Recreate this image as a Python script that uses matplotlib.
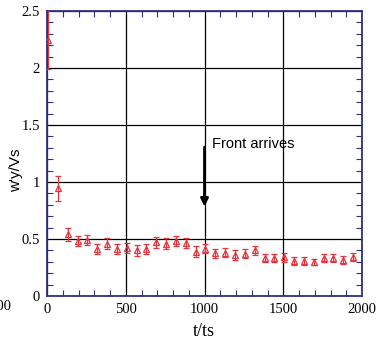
import matplotlib.pyplot as plt
import numpy as np
from matplotlib.ticker import MultipleLocator

# data
t = [6, 69, 131, 194, 256, 319, 381, 444, 506, 569, 631, 694, 756, 819, 881, 944,
     1006, 1069, 1131, 1194, 1256, 1319, 1381, 1444, 1506, 1569, 1631, 1694, 1756, 1819, 1881, 1944]
w = [2.25, 0.945, 0.54, 0.485, 0.49, 0.415, 0.46, 0.415, 0.42, 0.40, 0.41, 0.47, 0.46, 0.48, 0.465, 0.39,
     0.415, 0.375, 0.38, 0.36, 0.37, 0.40, 0.33, 0.33, 0.34, 0.307, 0.307, 0.298, 0.33, 0.336, 0.316, 0.34]
err = [0.26, 0.11, 0.06, 0.045, 0.045, 0.045, 0.045, 0.045, 0.045, 0.045, 0.045, 0.045, 0.045, 0.045, 0.045, 0.045,
       0.04, 0.04, 0.04, 0.04, 0.04, 0.04, 0.035, 0.035, 0.04, 0.035, 0.035, 0.03, 0.035, 0.035, 0.035, 0.035]

navy = "#2e3182"
red = "#e8323c"

fig = plt.figure(figsize=(3.81, 3.39), dpi=100)
ax = fig.add_axes([47 / 381, 1 - 296 / 339, 315 / 381, 285 / 339])

ax.errorbar(t, w, yerr=err, fmt="^", ms=5, mfc="none", mec=red, mew=0.9,
            ecolor=red, elinewidth=0.9, capsize=2.5, capthick=0.9, clip_on=True, zorder=3)

ax.set_xlim(0, 2000)
ax.set_ylim(0, 2.5)
ax.xaxis.set_major_locator(MultipleLocator(500))
ax.xaxis.set_minor_locator(MultipleLocator(100))
ax.yaxis.set_major_locator(MultipleLocator(0.5))
ax.yaxis.set_minor_locator(MultipleLocator(0.1))
ax.set_yticks([0, 0.5, 1, 1.5, 2, 2.5])
ax.set_yticklabels(["0", "0.5", "1", "1.5", "2", "2.5"])
ax.grid(True, which="major", color="black", lw=0.9)

for s in ax.spines.values():
    s.set_color(navy)
    s.set_linewidth(1.3)
ax.tick_params(which="both", direction="in", top=True, right=True, color=navy)
ax.tick_params(which="major", length=0, pad=5)
ax.tick_params(which="minor", length=4, width=0.8)
for lab in ax.get_xticklabels() + ax.get_yticklabels():
    lab.set_family("Liberation Serif")
    lab.set_fontsize(10.5)

ax.annotate("", xy=(1000, 0.76), xytext=(1000, 1.33),
            arrowprops=dict(arrowstyle="-|>", color="black", lw=2, mutation_scale=11))
ax.text(1045, 1.33, "Front arrives", family="Liberation Sans", fontsize=10.5, va="center")

fig.text(16 / 381, 1 - 170 / 339, "w'y/Vs", rotation=90, family="Liberation Sans",
         fontsize=11, ha="center", va="center")
fig.text(204 / 381, 1 - 331 / 339, "t/ts", family="Liberation Serif", fontsize=13,
         ha="center", va="center")
fig.text(11 / 381, 1 - 307 / 339, "2000", family="Liberation Serif", fontsize=10.5,
         ha="right", va="center")

fig.savefig("out.png", dpi=100)
